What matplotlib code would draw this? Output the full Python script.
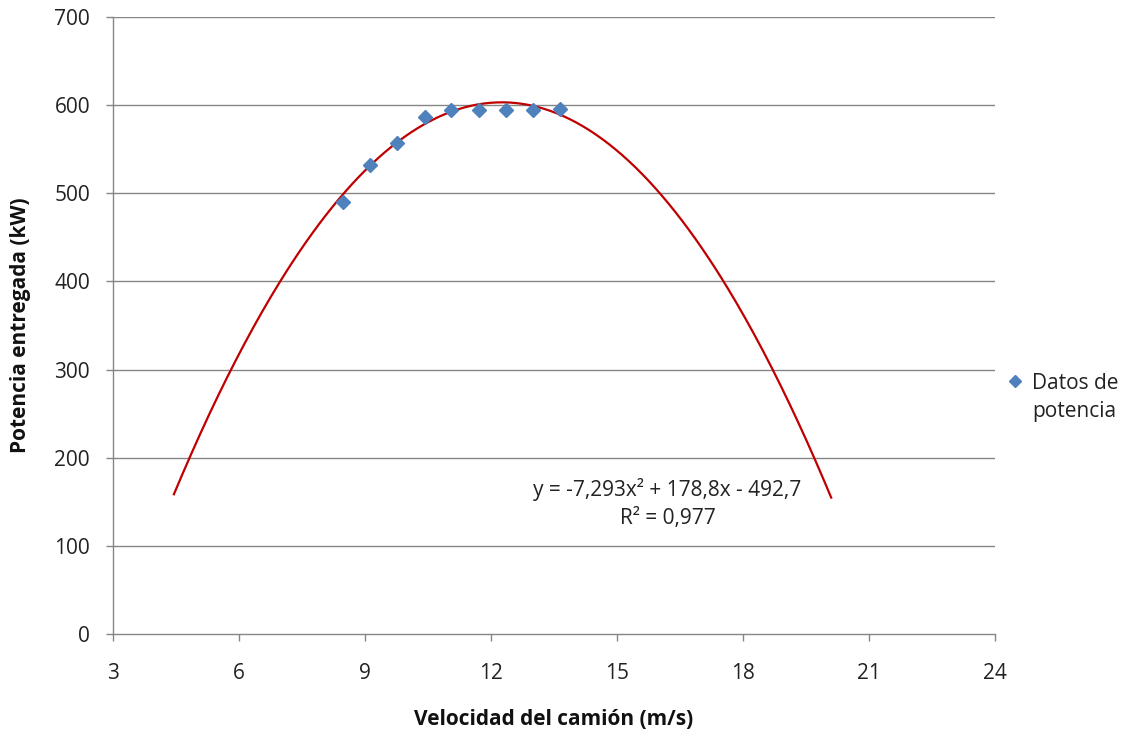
import matplotlib
matplotlib.use("Agg")
import matplotlib.pyplot as plt
import numpy as np

plt.rcParams['font.family'] = ['Open Sans', 'DejaVu Sans']

velocidad = [8.48, 9.12, 9.76, 10.43, 11.05, 11.71, 12.36, 12.99, 13.64]
potencia = [490, 532, 557, 587, 594, 595, 594, 595, 596]
coefs = [-7.293, 178.8, -492.7]   # trendline shown on chart
trend_range = [4.45, 20.1]
xticks = [3, 6, 9, 12, 15, 18, 21, 24]
yticks = [0, 100, 200, 300, 400, 500, 600, 700]

FS = 15
fig = plt.figure(figsize=(11.22, 7.36), dpi=100)
ax = fig.add_axes([113/1122, 1-634/736, (995-113)/1122, (634-17)/736])

grid_c = '#868686'
for yv in yticks[1:]:
    ax.axhline(yv, color=grid_c, lw=1.0, zorder=0)

xs = np.linspace(trend_range[0], trend_range[1], 300)
ax.plot(xs, np.polyval(coefs, xs), color='#C00000', lw=1.6, zorder=2)
ax.plot(velocidad, potencia, linestyle='none', marker='D', markersize=7.6,
        color='#4F81BD', markeredgecolor='#4F81BD', zorder=3)

ax.set_xlim(3, 24)
ax.set_ylim(0, 700)
ax.set_xticks(xticks)
ax.set_yticks(yticks)
for s in ['top', 'right']:
    ax.spines[s].set_visible(False)
for s in ['left', 'bottom']:
    ax.spines[s].set_color(grid_c)
    ax.spines[s].set_linewidth(1.0)
ax.tick_params(axis='both', colors=grid_c, labelcolor='#222222', labelsize=FS,
               length=5, width=1.0, direction='out')
ax.tick_params(axis='x', pad=16)
ax.tick_params(axis='y', pad=11.5)

ax.set_xlabel('Velocidad del camión (m/s)', fontsize=FS, fontweight='bold',
              color='#111111', labelpad=18)
ax.set_ylabel('Potencia entregada (kW)', fontsize=FS, fontweight='bold',
              color='#111111', labelpad=17)

ax.text(16.2, 148, 'y = -7,293x² + 178,8x - 492,7\nR² = 0,977', fontsize=FS,
        ha='center', va='center', color='#222222', linespacing=1.45,
        multialignment='center', transform=ax.transData)

fig.lines.append(matplotlib.lines.Line2D([1015/1122], [1-381/736], marker='D',
                 markersize=5.8, color='#4F81BD', transform=fig.transFigure))
fig.text(1032/1122, 1-397.5/736, 'Datos de\npotencia', fontsize=FS, ha='left',
         va='center', color='#222222', linespacing=1.45)

fig.savefig('out.png', dpi=100)
